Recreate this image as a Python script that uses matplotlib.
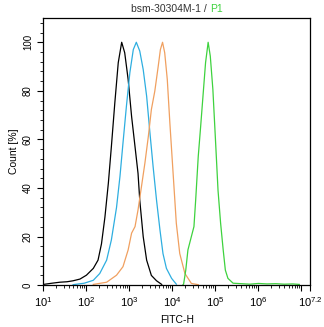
import numpy as np
import matplotlib
matplotlib.use("Agg")
import matplotlib.pyplot as plt
from matplotlib.ticker import FixedLocator, MultipleLocator

plt.rcParams.update({
    'font.family': ['Liberation Sans', 'DejaVu Sans'],
    'font.size': 7,
    'mathtext.default': 'regular',
})

# histogram outlines: x in log10(FITC-H), y in % of max count
black_x = [1.00, 1.20, 1.38, 1.55, 1.69, 1.85, 2.00, 2.16, 2.27, 2.35, 2.43, 2.51, 2.58,
           2.66, 2.74, 2.82, 2.89, 2.97, 3.05, 3.13, 3.20, 3.24, 3.32, 3.40, 3.51, 3.63, 3.75]
black_y = [0.3, 0.8, 1.2, 1.4, 1.8, 2.5, 4.1, 6.9, 10.3, 17, 28, 42, 57,
           75, 91.6, 100, 95.7, 84.7, 69.5, 57, 46, 35, 20, 10.3, 4.0, 1.8, 0.3]

blue_x = [1.69, 1.95, 2.16, 2.31, 2.47, 2.58, 2.70, 2.78, 2.85, 2.93, 3.01, 3.09, 3.16,
          3.24, 3.32, 3.40, 3.47, 3.55, 3.63, 3.71, 3.78, 3.86, 3.98, 4.09]
blue_y = [0.2, 0.8, 2.0, 4.8, 10.3, 18.6, 32, 44.8, 58.5, 73.7, 87.5, 97, 100,
          96.4, 88.8, 77.8, 64, 48.9, 35, 22.7, 13, 6.9, 2.8, 0.4]

orange_x = [2.16, 2.47, 2.70, 2.85, 2.97, 3.05, 3.13, 3.20, 3.28, 3.36, 3.44, 3.51, 3.59,
            3.67, 3.72, 3.77, 3.82, 3.88, 3.94, 4.02, 4.09, 4.17, 4.29, 4.44, 4.60]
orange_y = [0.3, 1.2, 4.1, 7.6, 14.5, 21.4, 24.1, 31, 40.6, 50.3, 61.3, 72.3, 79.9,
            90.2, 97, 100, 95.7, 84.7, 66.8, 44.8, 25.5, 13, 4.8, 0.7, 0.2]

green_x = [4.24, 4.26, 4.31, 4.36, 4.44, 4.50, 4.54, 4.60, 4.65, 4.71, 4.77, 4.83, 4.88,
           4.94, 5.00, 5.06, 5.12, 5.18, 5.23, 5.29, 5.41, 5.60, 5.80, 6.00, 6.20, 6.40,
           6.60, 6.80, 6.95]
green_y = [0.0, 0.5, 6.2, 14.5, 20, 24.1, 35, 53, 64, 77.8, 91.6, 100, 94.3,
           80.6, 60, 39, 25.5, 14.5, 6.2, 2.8, 0.8, 0.6, 0.4, 0.7, 0.5, 0.6,
           0.4, 0.5, 0.3]

series = [
    (black_x, black_y, 'black'),
    (blue_x, blue_y, '#2eaee0'),
    (orange_x, orange_y, '#f0a060'),
    (green_x, green_y, '#3ed23e'),
]

decades = [1, 2, 3, 4, 5, 6, 7]

fig = plt.figure(figsize=(3.24, 3.27), dpi=100)
ax = fig.add_axes([0.134, 0.128, 0.823, 0.817])

for xs, ys, c in series:
    ax.plot(xs, ys, color=c, lw=0.9)

ax.set_xlim(1, 7.2)
ax.set_ylim(0, 110)

# major ticks at each decade, minor ticks at 2..9 inside the decade;
# the 10^7 tick carries no label, the axis end is labelled 10^7.2
major = decades + [7.2]
labels = [f'$10^{{{d}}}$' for d in decades[:-1]] + ['', '$10^{7.2}$']
minor = [d + np.log10(k) for d in decades for k in range(2, 10) if d + np.log10(k) < 7.2]
ax.xaxis.set_major_locator(FixedLocator(major))
ax.set_xticklabels(labels, fontsize=8)
ax.xaxis.set_minor_locator(FixedLocator(minor))

ax.yaxis.set_major_locator(FixedLocator([0, 20, 40, 60, 80, 100]))
ax.yaxis.set_minor_locator(MultipleLocator(4))
for t in ax.get_yticklabels():
    t.set_rotation(90)
    t.set_va('center')

ax.tick_params(which='major', length=4, width=0.8, direction='out')
ax.tick_params(which='minor', length=2, width=0.6, direction='out')
ax.tick_params(axis='y', labelsize=7)

for s in ax.spines.values():
    s.set_linewidth(0.9)

ax.set_xlabel('FITC-H', fontsize=7.5, labelpad=4)
ax.set_ylabel('Count [%]', fontsize=7.5, labelpad=3)

# two-colour title, centred over the axes
fig.canvas.draw()
renderer = fig.canvas.get_renderer()
t1 = fig.text(0, 0.972, 'bsm-30304M-1 / ', ha='left', va='center', fontsize=7.5, color='#333333')
t2 = fig.text(0, 0.972, 'P1', ha='left', va='center', fontsize=7.5, color='#3ed23e')
w1 = t1.get_window_extent(renderer).width / fig.bbox.width
w2 = t2.get_window_extent(renderer).width / fig.bbox.width
cx = 0.134 + 0.823 / 2
t1.set_x(cx - (w1 + w2) / 2)
t2.set_x(cx - (w1 + w2) / 2 + w1)

fig.savefig('out.png', dpi=100)
